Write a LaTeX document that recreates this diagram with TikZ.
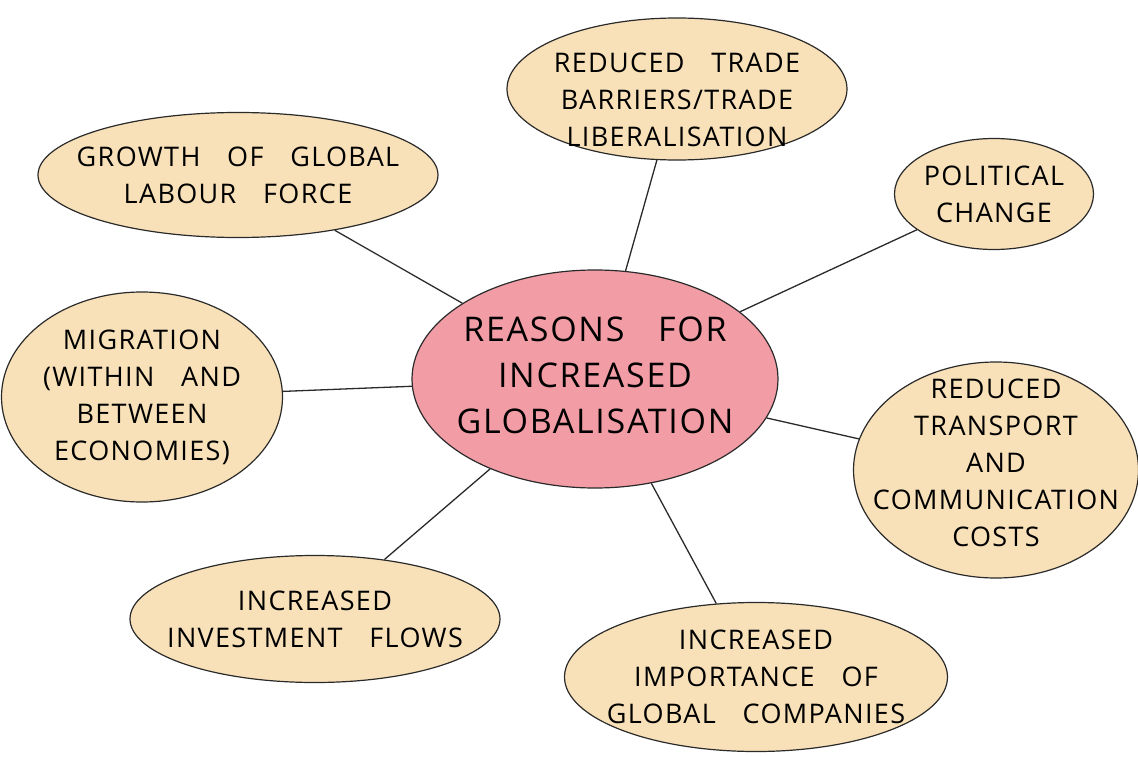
\documentclass[tikz,border=0pt]{standalone}
\usepackage{fontspec}
\setmainfont{Open Sans}[LetterSpace=5,WordSpace=3.2]
\usetikzlibrary{shapes.geometric}
\definecolor{pinkfill}{HTML}{F29DA6}
\definecolor{beigefill}{HTML}{F8E1B9}
\definecolor{edge}{HTML}{2A2A2A}
\begin{document}
\begin{tikzpicture}[x=1pt,y=-1pt,
  bubble/.style={ellipse,draw=edge,line width=1.2pt,fill=beigefill,inner sep=-100pt,align=center,
    font=\fontsize{27}{37}\selectfont},
  hub/.style={ellipse,draw=edge,line width=1.2pt,fill=pinkfill,inner sep=-100pt,align=center,
    font=\fontsize{34}{46}\selectfont},
  bubbletext/.style={inner sep=0pt,align=center,font=\fontsize{27}{37}\selectfont},
  hubtext/.style={inner sep=0pt,align=center,font=\fontsize{34}{46}\selectfont},
  link/.style={draw=edge,line width=1.3pt}]
\useasboundingbox (0,0) rectangle (1138,757);
\node[hub,minimum width=366pt,minimum height=218pt] (c) at (595,379) {};
\node[hubtext] (ctext) at (595,375) {REASONS FOR\\INCREASED\\GLOBALISATION};
\node[bubble,minimum width=400pt,minimum height=125pt] (g) at (238,175) {GROWTH OF GLOBAL\\LABOUR FORCE};
\node[bubble,minimum width=340pt,minimum height=142pt] (t) at (677,89) {};
\node[bubbletext] (ttext) at (677,100) {REDUCED TRADE\\BARRIERS/TRADE\\LIBERALISATION};
\node[bubble,minimum width=199pt,minimum height=111pt] (p) at (994,194) {POLITICAL\\CHANGE};
\node[bubble,minimum width=281pt,minimum height=210pt] (m) at (142,397) {MIGRATION\\(WITHIN AND\\BETWEEN\\ECONOMIES)};
\node[bubble,minimum width=285pt,minimum height=216pt] (r) at (996,470) {};
\node[bubbletext] (rtext) at (996,463) {REDUCED\\TRANSPORT\\AND\\COMMUNICATION\\COSTS};
\node[bubble,minimum width=370pt,minimum height=127pt] (i) at (315,619) {INCREASED\\INVESTMENT FLOWS};
\node[bubble,minimum width=383pt,minimum height=149pt] (k) at (756,677) {INCREASED\\IMPORTANCE OF\\GLOBAL COMPANIES};
\foreach \n in {g,t,p,m,r,i,k} \draw[link] (c) -- (\n);
\end{tikzpicture}
\end{document}
